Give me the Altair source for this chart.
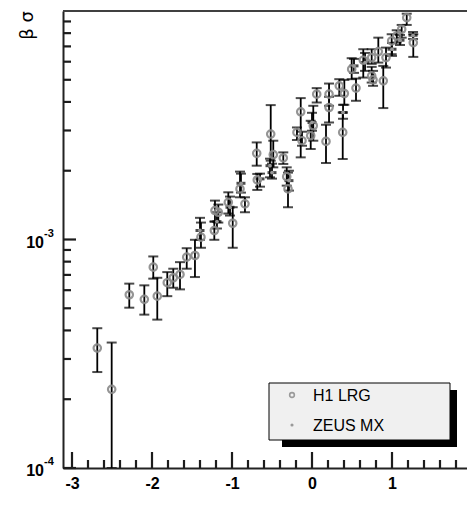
import altair as alt
import pandas as pd

# ---- data ----
h1_x = [-2.684, -2.504, -2.284, -2.096, -1.984, -1.934, -1.809, -1.734, -1.650, -1.566,
        -1.463, -1.388, -1.213, -1.221, -1.171, -1.046, -0.991, -0.900, -0.838, -0.684,
        -0.691, -0.516, -0.484, -0.359, -0.316, -0.300, -0.141, -0.188, -0.125, -0.016,
        0.016, 0.059, 0.175, 0.213, 0.213, 0.384, 0.404, 0.341, 0.550, 0.496,
        0.641, 0.746, 0.746, 0.763, 0.829, 0.891, 0.925, 0.996, 1.059, 1.121,
        1.184, 1.266]
h1_y = [3.35e-4, 2.21e-4, 5.73e-4, 5.47e-4, 7.57e-4, 5.65e-4, 6.47e-4, 6.80e-4, 7.03e-4, 8.37e-4,
        8.51e-4, 1.024e-3, 1.339e-3, 1.095e-3, 1.316e-3, 1.455e-3, 1.178e-3, 1.665e-3, 1.432e-3, 1.823e-3,
        2.382e-3, 2.894e-3, 2.351e-3, 2.274e-3, 1.884e-3, 1.665e-3, 3.622e-3, 2.942e-3, 2.706e-3, 2.846e-3,
        3.147e-3, 4.327e-3, 2.687e-3, 4.327e-3, 3.782e-3, 2.942e-3, 4.354e-3, 4.705e-3, 4.597e-3, 5.564e-3,
        6.091e-3, 6.253e-3, 5.201e-3, 4.996e-3, 6.641e-3, 4.946e-3, 6.253e-3, 7.396e-3, 7.777e-3, 8.320e-3,
        9.350e-3, 7.270e-3]
h1_lo = [2.63e-4, 1.0e-4, 5.03e-4, 4.69e-4, 6.74e-4, 4.46e-4, 5.65e-4, 6.15e-4, 6.05e-4, 7.45e-4,
         6.85e-4, 9.20e-4, 1.198e-3, 9.97e-4, 1.186e-3, 1.299e-3, 9.20e-4, 1.530e-3, 1.316e-3, 1.648e-3,
         2.104e-3, 2.213e-3, 2.069e-3, 2.141e-3, 1.721e-3, 1.384e-3, 2.288e-3, 2.725e-3, 2.573e-3, 2.489e-3,
         2.706e-3, 3.977e-3, 2.162e-3, 3.847e-3, 3.252e-3, 2.251e-3, 3.886e-3, 4.255e-3, 4.046e-3, 5.031e-3,
         5.113e-3, 5.870e-3, 4.863e-3, 4.705e-3, 5.946e-3, 3.760e-3, 5.654e-3, 6.470e-3, 7.270e-3, 7.645e-3,
         8.690e-3, 6.297e-3]
h1_hi = [4.09e-4, 3.54e-4, 6.41e-4, 6.30e-4, 8.43e-4, 6.80e-4, 7.20e-4, 7.45e-4, 7.96e-4, 9.16e-4,
         9.97e-4, 1.186e-3, 1.480e-3, 1.198e-3, 1.422e-3, 1.609e-3, 1.384e-3, 1.982e-3, 1.530e-3, 1.936e-3,
         2.660e-3, 3.874e-3, 2.706e-3, 2.406e-3, 2.069e-3, 1.962e-3, 4.157e-3, 3.093e-3, 2.963e-3, 3.308e-3,
         3.847e-3, 4.597e-3, 3.178e-3, 4.814e-3, 4.212e-3, 3.596e-3, 4.996e-3, 5.031e-3, 5.062e-3, 6.215e-3,
         6.804e-3, 6.804e-3, 5.694e-3, 5.470e-3, 7.645e-3, 5.752e-3, 6.914e-3, 7.912e-3, 8.236e-3, 8.690e-3,
         9.730e-3, 7.912e-3]

zeus_x = [-1.400, -1.188, -1.025, -0.888, -0.650, -0.525, -0.500, -0.288, 0.000, 0.388,
          0.525, 0.663, 1.000, 1.100, 1.263]
zeus_y = [1.095e-3, 1.198e-3, 1.384e-3, 1.762e-3, 1.842e-3, 2.104e-3, 1.962e-3, 1.810e-3, 3.252e-3, 3.596e-3,
          5.752e-3, 5.946e-3, 6.804e-3, 7.450e-3, 7.830e-3]
zeus_lo = [9.97e-4, 1.117e-3, 1.273e-3, 1.604e-3, 1.703e-3, 1.871e-3, 1.847e-3, 1.637e-3, 2.992e-3, 3.376e-3,
           5.362e-3, 5.470e-3, 6.360e-3, 7.100e-3, 7.546e-3]
zeus_hi = [1.244e-3, 1.316e-3, 1.541e-3, 1.942e-3, 1.942e-3, 2.258e-3, 2.147e-3, 2.000e-3, 3.585e-3, 3.886e-3,
           6.172e-3, 6.554e-3, 7.249e-3, 7.856e-3, 8.095e-3]

x_major = [-3, -2, -1, 0, 1, 2]
x_minor = [-2.8, -2.6, -2.4, -2.2, -1.8, -1.6, -1.4, -1.2, -0.8, -0.6, -0.4, -0.2,
           0.2, 0.4, 0.6, 0.8, 1.2, 1.4, 1.6, 1.8]
y_major = [1e-4, 1e-3]
y_minor = [2e-4, 3e-4, 4e-4, 5e-4, 6e-4, 7e-4, 8e-4, 9e-4,
           2e-3, 3e-3, 4e-3, 5e-3, 6e-3, 7e-3, 8e-3, 9e-3]
y_label_base = ["10", "10"]
y_label_exp = ["-4", "-3"]
legend_labels = ["H1 LRG", "ZEUS MX"]
y_title = "β σ"

FONT = "Liberation Sans"
W, H = 404, 457
XMIN, XMAX = -3.1125, 2.1

h1 = pd.DataFrame({"x": h1_x, "y": h1_y, "lo": h1_lo, "hi": h1_hi})
zeus = pd.DataFrame({"x": zeus_x, "y": zeus_y, "lo": zeus_lo, "hi": zeus_hi})

xs = alt.Scale(domain=[XMIN, XMAX], range=[0, 417], nice=False, zero=False)
ys = alt.Scale(type="log", domain=[1e-4, 1e-2], nice=False)

xaxis = alt.Axis(values=x_major, ticks=False, tickSize=0, grid=False, title=None,
                 labelFont=FONT, labelFontSize=16, labelFontWeight="bold", labelColor="black",
                 labelPadding=7, domainColor="#222222", domainWidth=2,
                 labelExpr="datum.value < 0 ? '-' + abs(datum.value) : '' + datum.value")
yaxis = alt.Axis(labels=False, ticks=False, tickSize=0, grid=False, title=None,
                 domainColor="#222222", domainWidth=2)

one = pd.DataFrame({"a": [0]})

# error bars
def bars(df, cap, thick, with_axes=False):
    if with_axes:
        xe = alt.X("x:Q", scale=xs, axis=xaxis)
        ye = alt.Y("lo:Q", scale=ys, axis=yaxis)
    else:
        xe = alt.X("x:Q", scale=xs)
        ye = alt.Y("lo:Q", scale=ys)
    r = alt.Chart(df).mark_rule(color="black", strokeWidth=1.8, clip=True).encode(x=xe, y=ye, y2="hi:Q")
    t1 = alt.Chart(df).mark_tick(orient="horizontal", size=cap, thickness=thick, color="black", clip=True).encode(
        x=alt.X("x:Q", scale=xs), y=alt.Y("hi:Q", scale=ys))
    t2 = alt.Chart(df).mark_tick(orient="horizontal", size=cap, thickness=thick, color="black", clip=True).encode(
        x=alt.X("x:Q", scale=xs), y=alt.Y("lo:Q", scale=ys))
    return [r, t1, t2]

h1_pts = alt.Chart(h1).mark_point(shape="circle", filled=False, size=55, stroke="#8a8a8a",
                                  strokeWidth=2.2, opacity=0.9).encode(
    x=alt.X("x:Q", scale=xs), y=alt.Y("y:Q", scale=ys))
zeus_pts = alt.Chart(zeus).mark_point(shape="circle", filled=True, size=14, color="#999999", opacity=1).encode(
    x=alt.X("x:Q", scale=xs), y=alt.Y("y:Q", scale=ys))
zeus_mark = alt.Chart(zeus).mark_tick(orient="horizontal", size=9, thickness=3, color="black").encode(
    x=alt.X("x:Q", scale=xs), y=alt.Y("y:Q", scale=ys))

# ---- inner tick marks: vertical rules on the bottom edge, horizontal on the left edge ----
xt = pd.DataFrame({"tx": x_major + x_minor,
                   "lo": [1e-4] * (len(x_major) + len(x_minor)),
                   "hi": [1.175e-4] * len(x_major) + [1.084e-4] * len(x_minor)})
yt = pd.DataFrame({"ty": y_major + y_minor,
                   "left": [XMIN] * (len(y_major) + len(y_minor)),
                   "right": [XMIN + 13 / 80] * len(y_major) + [XMIN + 8 / 80] * len(y_minor)})

TICK_COLOR = "#1c1c1c"
tick_x = alt.Chart(xt).mark_rule(color=TICK_COLOR, stroke=TICK_COLOR, strokeWidth=2.2, opacity=1).encode(
    x=alt.X("tx:Q", scale=xs), y=alt.Y("lo:Q", scale=ys), y2="hi:Q")
tick_y = alt.Chart(yt).mark_rule(color=TICK_COLOR, stroke=TICK_COLOR, strokeWidth=2.2, opacity=1).encode(
    y=alt.Y("ty:Q", scale=ys), x=alt.X("left:Q", scale=xs), x2="right:Q")

top_border = alt.Chart(one).mark_rule(color="#404040", strokeWidth=2).encode(
    x=alt.value(0), x2=alt.value(420), y=alt.value(0))

ylab = pd.DataFrame({"v": y_major, "b": y_label_base, "e": y_label_exp})
ylab_base = alt.Chart(ylab).mark_text(font=FONT, fontSize=16, fontWeight="bold", align="right",
                                      baseline="middle", dy=3, color="black").encode(
    y=alt.Y("v:Q", scale=ys), x=alt.value(-19), text="b:N")
ylab_exp = alt.Chart(ylab).mark_text(font=FONT, fontSize=11, fontWeight="bold", align="left",
                                     baseline="middle", dy=-6, color="black").encode(
    y=alt.Y("v:Q", scale=ys), x=alt.value(-19), text="e:N")
ytitle = alt.Chart(one).mark_text(text=y_title, font="DejaVu Sans", fontSize=18, angle=270,
                                  align="right", baseline="middle", color="black").encode(
    x=alt.value(-35), y=alt.value(0))

# legend box
shadow = alt.Chart(one).mark_rect(color="black").encode(
    x=alt.value(219), x2=alt.value(394), y=alt.value(379), y2=alt.value(436))
box = alt.Chart(one).mark_rect(fill="#f0f0f0", stroke="black", strokeWidth=1).encode(
    x=alt.value(206), x2=alt.value(387), y=alt.value(372), y2=alt.value(429))
leg_h1_sym = alt.Chart(one).mark_point(shape="circle", filled=False, size=22, stroke="#777777",
                                       strokeWidth=1.6).encode(x=alt.value(229), y=alt.value(384))
leg_z_sym = alt.Chart(one).mark_point(shape="circle", filled=True, size=10, color="#999999",
                                      opacity=1).encode(x=alt.value(229), y=alt.value(414))
leg_h1_txt = alt.Chart(one).mark_text(text=legend_labels[0], font=FONT, fontSize=16, align="left",
                                      baseline="middle", color="black").encode(x=alt.value(250), y=alt.value(385))
leg_z_txt = alt.Chart(one).mark_text(text=legend_labels[1], font=FONT, fontSize=16, align="left",
                                     baseline="middle", color="black").encode(x=alt.value(250), y=alt.value(415))

layers = bars(h1, 10, 2, with_axes=True) + bars(zeus, 10, 2)
layers += [zeus_mark, h1_pts, zeus_pts]
layers += [top_border, ylab_base, ylab_exp, ytitle]
layers += [shadow, box, leg_h1_sym, leg_z_sym, leg_h1_txt, leg_z_txt]
layers += [tick_x, tick_y]

chart = alt.layer(*layers).properties(
    width=W, height=H,
    autosize=alt.AutoSizeParams(type="none"),
    padding={"left": 63, "top": 11, "right": 0, "bottom": 41},
    background="white",
).configure_view(stroke=None)

chart.save("out.html", embed_options={"renderer": "svg", "actions": False})
